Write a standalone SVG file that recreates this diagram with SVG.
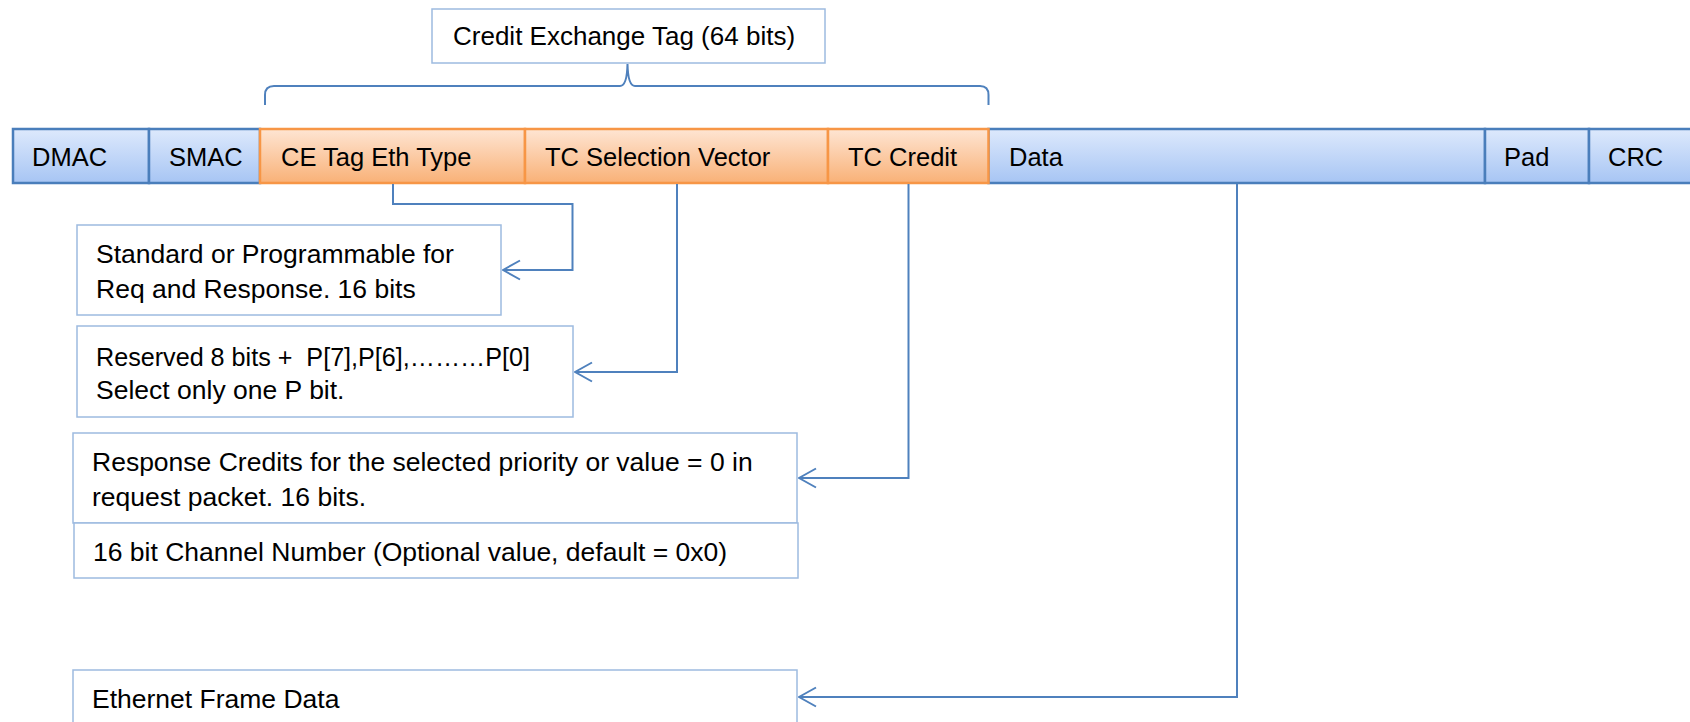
<svg xmlns="http://www.w3.org/2000/svg" width="1690" height="722" viewBox="0 0 1690 722">
<style>
text{font-family:"Liberation Sans",Arial,sans-serif;font-size:25.5px;fill:#000;white-space:pre}
text.d{font-size:26.5px}
text.t{font-size:26px}
.blue{fill:url(#gb);stroke:#4a7ebb;stroke-width:2.5}
.orange{fill:url(#go);stroke:#f79646;stroke-width:2.5}
.box{fill:#fff;stroke:#9dbbe0;stroke-width:1.5}
.conn{fill:none;stroke:#4f81bd;stroke-width:2}
</style>
<defs>
<linearGradient id="gb" x1="0" y1="0" x2="0" y2="1">
<stop offset="0" stop-color="#dde9fc"/>
<stop offset="1" stop-color="#a7c5f4"/>
</linearGradient>
<linearGradient id="go" x1="0" y1="0" x2="0" y2="1">
<stop offset="0" stop-color="#fee5d3"/>
<stop offset="1" stop-color="#f9b177"/>
</linearGradient>
<marker id="arr" viewBox="0 0 20 22" refX="19" refY="11" markerWidth="20" markerHeight="22" markerUnits="userSpaceOnUse" orient="auto">
<path d="M2,1.5 L19,11 L2,20.5" fill="none" stroke="#4f81bd" stroke-width="2"/>
</marker>
</defs>
<rect width="1690" height="722" fill="#fff"/>

<g id="title">
<rect class="box" x="432" y="9" width="393" height="54"/>
<text class="t" x="453" y="45">Credit Exchange Tag (64 bits)</text>
</g>
<g id="brace">
<path class="conn" stroke-width="2.5" d="M265,105 V95 Q265,86 274,86 H620 Q627,86 627.5,64 Q628,86 635,86 H980 Q988.5,86 988.5,95 V105"/>
</g>

<g id="dmac"><rect class="blue" x="13" y="129" width="136" height="54"/><text x="32" y="166">DMAC</text></g>
<g id="smac"><rect class="blue" x="149" y="129" width="111" height="54"/><text x="169" y="166">SMAC</text></g>
<g id="data"><rect class="blue" x="988.5" y="129" width="496.5" height="54"/><text x="1009" y="166">Data</text></g>
<g id="pad"><rect class="blue" x="1485" y="129" width="104" height="54"/><text x="1504" y="166">Pad</text></g>
<g id="crc"><rect class="blue" x="1589" y="129" width="110" height="54"/><text x="1608" y="166">CRC</text></g>
<g id="cetag"><rect class="orange" x="260" y="129" width="265" height="54"/><text x="281" y="166">CE Tag Eth Type</text></g>
<g id="tcsel"><rect class="orange" x="525" y="129" width="303" height="54"/><text x="545" y="166">TC Selection Vector</text></g>
<g id="tccredit"><rect class="orange" x="828" y="129" width="160.5" height="54"/><text x="848" y="166">TC Credit</text></g>

<g id="desc1"><rect class="box" x="77" y="225" width="424" height="90"/>
<text class="d" x="96" y="263">Standard or Programmable for</text>
<text class="d" x="96" y="298">Req and Response. 16 bits</text></g>
<g id="desc2"><rect class="box" x="77" y="326" width="496" height="91"/>
<text class="d" x="96" y="366" textLength="434" lengthAdjust="spacingAndGlyphs">Reserved 8 bits +  P[7],P[6],………P[0]</text>
<text class="d" x="96" y="399">Select only one P bit.</text></g>
<g id="desc3"><rect class="box" x="73" y="433" width="724" height="90"/>
<text class="d" x="92" y="471">Response Credits for the selected priority or value = 0 in</text>
<text class="d" x="92" y="506">request packet. 16 bits.</text></g>
<g id="desc4"><rect class="box" x="74" y="523" width="724" height="55"/>
<text class="d" x="93" y="561">16 bit Channel Number (Optional value, default = 0x0)</text></g>
<g id="desc5"><rect class="box" x="73" y="670" width="724" height="70"/>
<text class="d" x="92" y="708">Ethernet Frame Data</text></g>

<g id="connectors">
<path class="conn" marker-end="url(#arr)" d="M393,184 V204 H572.5 V270 H503"/>
<path class="conn" marker-end="url(#arr)" d="M677,184 V372 H575"/>
<path class="conn" marker-end="url(#arr)" d="M908.5,184 V478 H799"/>
<path class="conn" marker-end="url(#arr)" d="M1237,184 V697 H799"/>
</g>
</svg>
